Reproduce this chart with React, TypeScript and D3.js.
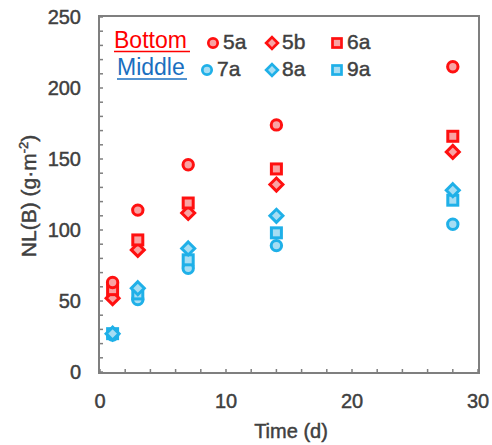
import React from "react";
import * as d3 from "d3";

const days = [1, 3, 7, 14, 28];
const s5a = [63, 114, 146, 174, 215];
const s5b = [52, 86, 112, 132, 155];
const s6a = [58, 93, 119, 143, 166];
const s7a = [26, 51, 73, 89, 104];
const s8a = [27, 59, 87, 110, 128];
const s9a = [27, 55, 79, 98, 121];
const xTicks = [0, 10, 20, 30];
const yTicks = [0, 50, 100, 150, 200, 250];

const RED = "#FF1010";
const RED_FILL = "#F9A3A3";
const BLUE = "#1FB0E8";
const BLUE_FILL = "#A6DDF3";

type Shape = "circle" | "diamond" | "square";
const series: { name: string; values: number[]; shape: Shape; group: "b" | "m" }[] = [
  { name: "7a", values: s7a, shape: "circle", group: "m" },
  { name: "9a", values: s9a, shape: "square", group: "m" },
  { name: "8a", values: s8a, shape: "diamond", group: "m" },
  { name: "5b", values: s5b, shape: "diamond", group: "b" },
  { name: "6a", values: s6a, shape: "square", group: "b" },
  { name: "5a", values: s5a, shape: "circle", group: "b" },
];

const FONT = "'Liberation Sans', Arial, sans-serif";
const TEXT = "#404040";
const AXIS = "#7f7f7f";

function Marker({ x, y, shape, group, size = 1 }: { x: number; y: number; shape: Shape; group: "b" | "m"; size?: number }) {
  const stroke = group === "b" ? RED : BLUE;
  const fill = group === "b" ? RED_FILL : BLUE_FILL;
  const sw = 3 * size;
  if (shape === "circle") return <circle cx={x} cy={y} r={5.2 * size} fill={fill} stroke={stroke} strokeWidth={sw} />;
  if (shape === "square") {
    const h = 5 * size;
    return <rect x={x - h} y={y - h} width={2 * h} height={2 * h} fill={fill} stroke={stroke} strokeWidth={sw} />;
  }
  const d = 6.5 * size;
  return <path d={`M${x},${y - d}L${x + d},${y}L${x},${y + d}L${x - d},${y}Z`} fill={fill} stroke={stroke} strokeWidth={sw} strokeLinejoin="miter" />;
}

export default function App() {
  const x = d3.scaleLinear().domain([0, 30]).range([100, 478]);
  const y = d3.scaleLinear().domain([0, 250]).range([372, 17]);
  const xMinor = d3.range(0, 31, 2);
  const yMinor = d3.range(0, 251, 10);
  const left = 99, right = 479, top = 16, bottom = 373;

  const legendItems: { name: string; shape: Shape; group: "b" | "m"; mx: number; tx: number; my: number; ty: number }[] = [
    { name: "5a", shape: "circle", group: "b", mx: 213, tx: 223, my: 43, ty: 49 },
    { name: "5b", shape: "diamond", group: "b", mx: 272, tx: 282, my: 43, ty: 49 },
    { name: "6a", shape: "square", group: "b", mx: 337, tx: 347, my: 43, ty: 49 },
    { name: "7a", shape: "circle", group: "m", mx: 207, tx: 217, my: 70, ty: 76 },
    { name: "8a", shape: "diamond", group: "m", mx: 272, tx: 282, my: 70, ty: 76 },
    { name: "9a", shape: "square", group: "m", mx: 337, tx: 347, my: 70, ty: 76 },
  ];

  const heavy = { stroke: TEXT, strokeWidth: 0.45 };

  return (
    <svg width={492} height={445} style={{ position: "absolute", left: 0, top: 0, background: "#fff" }} fontFamily={FONT}>
      <rect x={0} y={0} width={492} height={445} fill="#fff" />
      {xMinor.map((t) => (
        <line key={"xt" + t} x1={x(t)} x2={x(t)} y1={bottom} y2={bottom - 4} stroke={AXIS} strokeWidth={1.5} />
      ))}
      {yMinor.map((t) => (
        <line key={"yt" + t} x1={left} x2={left + 4} y1={y(t)} y2={y(t)} stroke={AXIS} strokeWidth={1.5} />
      ))}
      <rect x={left} y={top} width={right - left} height={bottom - top} fill="none" stroke={AXIS} strokeWidth={2} />
      {xTicks.map((t) => (
        <text key={"xl" + t} x={x(t)} y={408} textAnchor="middle" fontSize={20} fill={TEXT} {...heavy}>{t}</text>
      ))}
      {yTicks.map((t) => (
        <text key={"yl" + t} x={81} y={y(t) + 7} textAnchor="end" fontSize={20} fill={TEXT} {...heavy}>{t}</text>
      ))}
      <text x={291} y={438} textAnchor="middle" fontSize={20} fill={TEXT} {...heavy}>Time (d)</text>
      <text transform="translate(36,196) rotate(-90)" textAnchor="middle" fontSize={21} fill={TEXT} {...heavy}>
        NL(B) (g·m<tspan fontSize={13} dy={-8}>-2</tspan><tspan dy={8}>)</tspan>
      </text>
      {series.map((s) =>
        s.values.map((v, i) => (
          <Marker key={s.name + i} x={x(days[i])} y={y(v)} shape={s.shape} group={s.group} />
        ))
      )}
      <text x={114} y={48} fontSize={23} fill="#FF0000">Bottom</text>
      <line x1={114} x2={190} y1={51.5} y2={51.5} stroke="#FF0000" strokeWidth={1.5} />
      <text x={117} y={75} fontSize={23} fill="#1A6FC0">Middle</text>
      <line x1={117} x2={187} y1={79} y2={79} stroke="#1A6FC0" strokeWidth={1.5} />
      {legendItems.map((l) => (
        <g key={"lg" + l.name}>
          <Marker x={l.mx} y={l.my} shape={l.shape} group={l.group} size={0.9} />
          <text x={l.tx} y={l.ty} fontSize={21} fill={TEXT} {...heavy}>{l.name}</text>
        </g>
      ))}
    </svg>
  );
}
